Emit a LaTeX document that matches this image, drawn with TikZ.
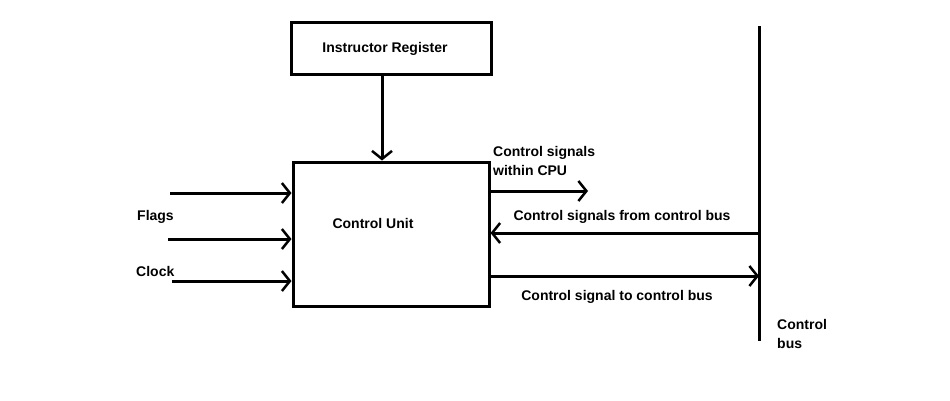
\documentclass[tikz,border=0pt]{standalone}
\usepackage{fontspec}
\setmainfont{Liberation Sans}
\usetikzlibrary{arrows.meta}
\begin{document}
\begin{tikzpicture}[x=1pt,y=-1pt,
  box/.style={draw,line width=3pt,rectangle,inner sep=0pt},
  conn/.style={line width=3pt,-{Straight Barb[length=8pt,width=20pt,line width=2.5pt]}},
  plain/.style={line width=3pt},
  lbl/.style={font=\bfseries\fontsize{14}{19}\selectfont,inner sep=0pt},
  lbll/.style={lbl,anchor=west,align=left}]
\useasboundingbox (0,0) rectangle (950,400);
\node[box,minimum width=200pt,minimum height=52pt] (ir) at (391,48) {};
\node[lbl] (irt) at (385,49) {Instructor Register};
\node[box,minimum width=196pt,minimum height=144pt] (cu) at (391,234) {};
\node[lbl] (cut) at (373,223) {Control Unit};
\draw[conn] (ir.south -| 382,0) -- (cu.north -| 382,0);
% inputs
\coordinate (in1) at (170,193);
\coordinate (in2) at (168,239);
\coordinate (in3) at (172,281);
\draw[conn] (in1) -- (cu.west |- in1);
\draw[conn] (in2) -- (cu.west |- in2);
\draw[conn] (in3) -- (cu.west |- in3);
\node[lbll] (flags) at (137,217) {Flags};
\node[lbll] (clock) at (136,271) {Clock};
% bus
\coordinate (bustop) at (759,26);
\coordinate (busbot) at (759,341);
\draw[plain] (bustop) -- (busbot);
\node[lbll] (busl) at (777,334) {Control\\bus};
% outputs
\coordinate (cpuend) at (588,191);
\draw[conn] (cu.east |- cpuend) -- (cpuend);
\node[lbll] (cpul) at (493,161) {Control signals\\within CPU};
\coordinate (fromb) at (759,233);
\draw[conn] (fromb) -- (cu.east |- fromb);
\node[lbl] (fromt) at (622,217) {Control signals from control bus};
\coordinate (tob) at (759,276);
\draw[conn] (cu.east |- tob) -- (tob);
\node[lbl] (tot) at (617,297) {Control signal to control bus};
\end{tikzpicture}
\end{document}
